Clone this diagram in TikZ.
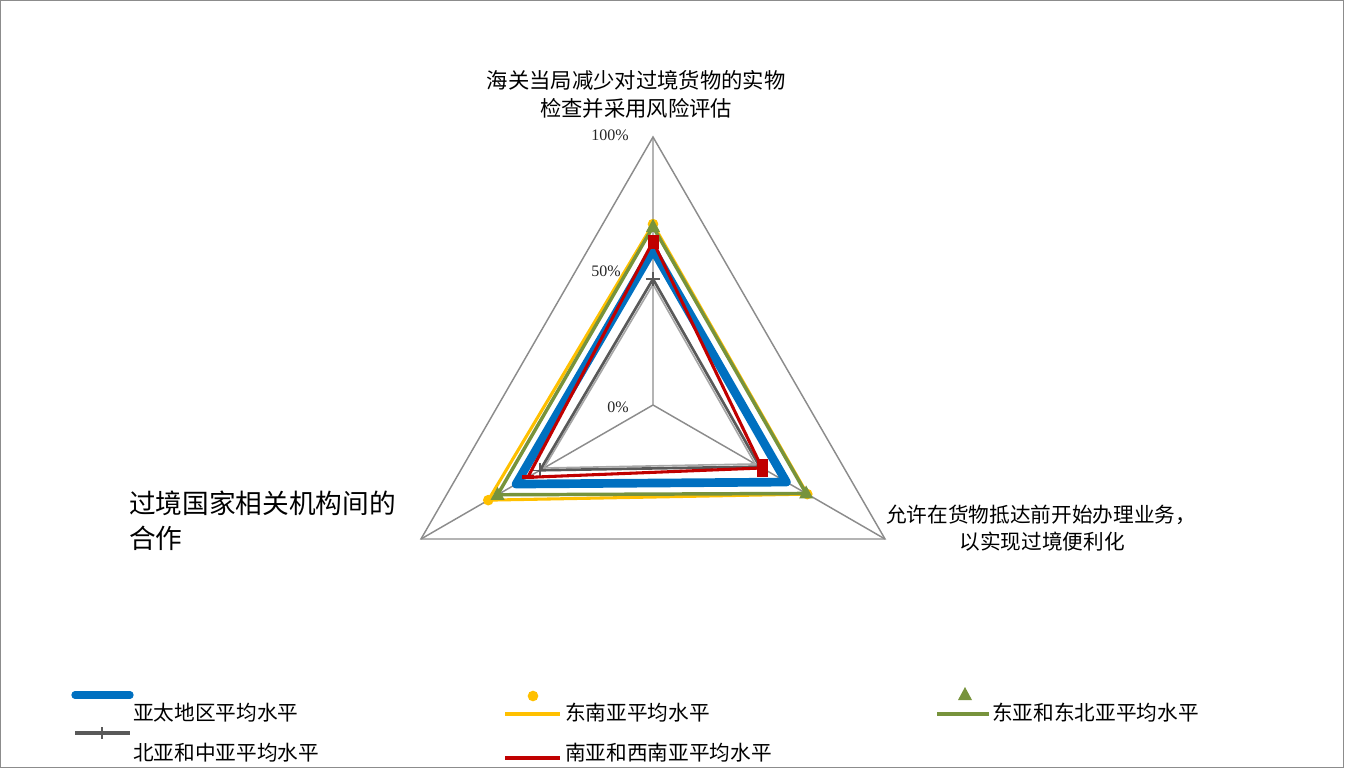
\documentclass[tikz,border=0pt]{standalone}
\usepackage{fontspec}
\setmainfont{Liberation Serif}
\newfontfamily\cjk{Noto Sans CJK SC}
\usetikzlibrary{calc}
\definecolor{gridgray}{HTML}{8C8C8C}
\definecolor{cblue}{HTML}{0070C0}
\definecolor{cyellow}{HTML}{FFC000}
\definecolor{cgreen}{HTML}{77933C}
\definecolor{cgray}{HTML}{595959}
\definecolor{clgray}{HTML}{A6A6A6}
\definecolor{cred}{HTML}{C00000}
\newcommand\mytri[1]{\fill[cgreen] ($(#1)+(0,-8)$) -- ($(#1)+(7,5)$) -- ($(#1)+(-7,5)$) -- cycle;}
\newcommand\mydot[1]{\fill[cyellow] (#1) circle (4pt);}
\newcommand\mysq[3]{\fill[cred] ($(#1)+(-#2,-#3)$) rectangle ($(#1)+(#2,#3)$);}
\newcommand\myplus[1]{\draw[cgray,line width=1.1pt] ($(#1)+(-7,0)$) -- ++(14,0) ($(#1)+(0,-7)$) -- ++(0,14);}
\begin{document}
\begin{tikzpicture}[x=0.75pt,y=-0.75pt,
  grid/.style={draw=gridgray,line width=1.1pt},
  lab/.style={font=\cjk\fontsize{16}{19}\selectfont,inner sep=0pt},
  leg/.style={font=\cjk\fontsize{15.5}{18}\selectfont,inner sep=0pt,anchor=west},
  pct/.style={font=\fontsize{12}{14}\selectfont,inner sep=0pt,text=black!85},
  sblue/.style={draw=cblue,line width=6.5pt,line join=round},
  syellow/.style={draw=cyellow,line width=2.3pt,line join=miter},
  sgreen/.style={draw=cgreen,line width=2.6pt,line join=miter},
  sgray/.style={draw=cgray,line width=2pt,line join=miter},
  slgray/.style={draw=clgray,line width=1.2pt,line join=miter},
  sred/.style={draw=cred,line width=2.3pt,line join=miter}]
\useasboundingbox (0,0) rectangle (1345,770);
\draw[draw=gridgray,line width=1pt] (0.7,0.7) rectangle (1343.5,767.5);
% axes
\coordinate (C) at (653,405);
\coordinate (T) at (653,137);
\coordinate (L) at (421,539);
\coordinate (R) at (885,539);
\draw[grid] (T) -- (L) -- (R) -- cycle;
\draw[grid] (C) -- (T) (C) -- (L) (C) -- (R);
% series points
\foreach \n/\t/\l/\r in {b/0.58/0.59/0.575, y/0.675/0.71/0.665, g/0.665/0.67/0.66, k/0.47/0.487/0.46, q/0.45/0.47/0.44, r/0.61/0.54/0.47}{
  \coordinate (\n1) at ($(C)!\t!(T)$);
  \coordinate (\n2) at ($(C)!\l!(L)$);
  \coordinate (\n3) at ($(C)!\r!(R)$);
}
\draw[sblue] (b1) -- (b2) -- (b3) -- cycle;
\draw[syellow] (y1) -- (y2) -- (y3) -- cycle;
\mydot{y1}\mydot{y2}\mydot{y3}
\draw[sgreen] (g1) -- (g2) -- (g3) -- cycle;
\mytri{g1}\mytri{g2}\mytri{g3}
\draw[slgray] (q1) -- (q2) -- (q3) -- cycle;
\draw[sgray] (k1) -- (k2) -- (k3) -- cycle;
\myplus{k1}\myplus{k2}\myplus{k3}
\draw[sred] (r1) -- (r2) -- (r3) -- cycle;
\mysq{r1}{5.5}{7}\mysq{r2}{6}{2}\mysq{r3}{5.5}{9}
% percent labels
\node[pct] (p100) at (610,135) {100\%};
\node[pct] (p50) at (606,271) {50\%};
\node[pct] (p0) at (618,407) {0\%};
% axis labels
\node[lab] (t1) at (636,80) {海关当局减少对过境货物的实物};
\node[lab] (t2) at (636,108) {检查并采用风险评估};
\node[lab,font=\cjk\fontsize{20}{24}\selectfont,anchor=west] (l1) at (129,503) {过境国家相关机构间的};
\node[lab,font=\cjk\fontsize{20}{24}\selectfont,anchor=west] (l2) at (129,538) {合作};
\node[lab,font=\cjk\fontsize{15.5}{18}\selectfont] (r1t) at (1041,515) {允许在货物抵达前开始办理业务，};
\node[lab,font=\cjk\fontsize{15.5}{18}\selectfont] (r2t) at (1042,542) {以实现过境便利化};
% legend
\coordinate (lb1) at (75,695); \coordinate (lb2) at (130,695);
\draw[cblue,line width=5.5pt,line cap=round] (lb1) -- (lb2);
\node[leg] (lbt) at (133,713) {亚太地区平均水平};
\coordinate (ly1) at (505,714); \coordinate (ly2) at (560,714); \coordinate (lym) at (533,696);
\draw[cyellow,line width=2.3pt] (ly1) -- (ly2);
\mydot{lym}
\node[leg] (lyt) at (565,713) {东南亚平均水平};
\coordinate (lg1) at (937,714); \coordinate (lg2) at (989,714); \coordinate (lgm) at (965,695);
\draw[cgreen,line width=2.6pt] (lg1) -- (lg2);
\mytri{lgm}
\node[leg] (lgt) at (992,713) {东亚和东北亚平均水平};
\coordinate (lk1) at (75,733); \coordinate (lk2) at (130,733); \coordinate (lkm) at (102,733);
\draw[cgray,line width=2.3pt] (lk1) -- (lk2);
\draw[cgray,line width=1.3pt] ($(lkm)+(0,-6)$) -- ++(0,12);
\node[leg] (lkt) at (133,753) {北亚和中亚平均水平};
\coordinate (lr1) at (505,758); \coordinate (lr2) at (560,758);
\draw[cred,line width=2.3pt] (lr1) -- (lr2);
\node[leg] (lrt) at (565,753) {南亚和西南亚平均水平};
\end{tikzpicture}
\end{document}
